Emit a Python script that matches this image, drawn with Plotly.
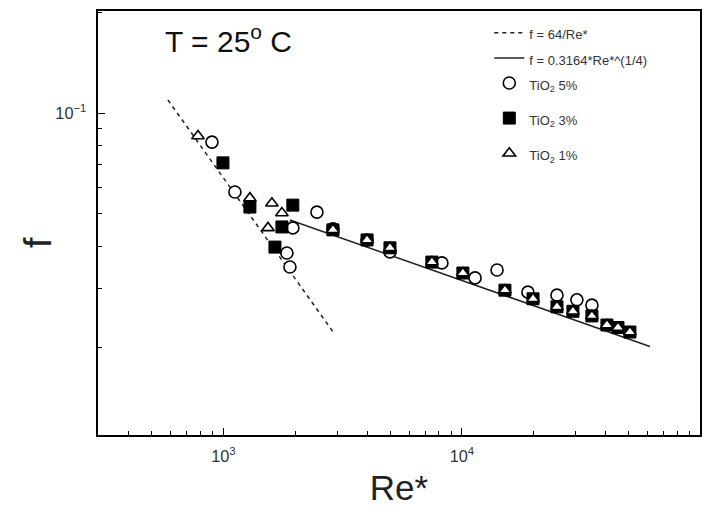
import plotly.graph_objects as go
import numpy as np

# --- data ---
re_lam = [585, 2935]                      # range of the laminar line f = 64/Re*
re_turb = [1900, 61400]                   # range of the Blasius line f = 0.3164*Re*^(-1/4)

re_5 = [895, 1117, 2466, 1954, 1845, 1900, 2877, 4000, 4990, 8240, 11350, 14030, 18900, 25020, 30330, 35060]
f_5 = [0.0819, 0.0581, 0.0506, 0.0454, 0.0382, 0.0347, 0.0451, 0.0418, 0.0385, 0.0357, 0.0322, 0.0340, 0.0292, 0.0286, 0.0277, 0.0267]

re_3 = [995, 1291, 1954, 1758, 1644, 2877, 4000, 4990, 7480, 10090, 15140, 19860, 25020, 29190, 35060, 40540, 45100, 50600]
f_3 = [0.0710, 0.0524, 0.0531, 0.0457, 0.0398, 0.0448, 0.0418, 0.0396, 0.0359, 0.0333, 0.0296, 0.0279, 0.0264, 0.0256, 0.0248, 0.0233, 0.0229, 0.0222]

re_1 = [782, 1291, 1596, 1758, 1537, 2877, 4000, 4990, 7480, 10090, 15140, 19860, 25020, 29190, 35060, 40540, 45100, 50600]
f_1 = [0.0854, 0.0557, 0.0538, 0.0503, 0.0454, 0.0448, 0.0418, 0.0396, 0.0359, 0.0333, 0.0296, 0.0279, 0.0264, 0.0256, 0.0248, 0.0233, 0.0229, 0.0222]

names = ["f = 64/Re*", "f = 0.3164*Re*^(1/4)", "TiO<sub>2</sub> 5%", "TiO<sub>2</sub> 3%", "TiO<sub>2</sub> 1%"]
groups = ["g1", "g1", "g1", "g2", "g3"]

x_lam = np.logspace(np.log10(re_lam[0]), np.log10(re_lam[1]), 50)
x_turb = np.logspace(np.log10(re_turb[0]), np.log10(re_turb[1]), 50)

FONT = "Arial, Liberation Sans, sans-serif"


def lab(t):
    return '<span style="font-size:13px">' + t + '</span>'


fig = go.Figure()
fig.add_trace(go.Scatter(x=x_lam, y=64 / x_lam, mode="lines", name=lab(names[0]), legendgroup=groups[0],
                         line=dict(color="#222", width=1.5, dash="4px,4px")))
fig.add_trace(go.Scatter(x=x_turb, y=0.3164 * x_turb ** -0.25, mode="lines", name=lab(names[1]),
                         legendgroup=groups[1], line=dict(color="#222", width=1.5)))
fig.add_trace(go.Scatter(x=re_5, y=f_5, mode="markers", name=lab(names[2]), legendgroup=groups[2],
                         marker=dict(symbol="circle", size=12, color="white",
                                     line=dict(color="black", width=1.6))))
fig.add_trace(go.Scatter(x=re_3, y=f_3, mode="markers", name=lab(names[3]), legendgroup=groups[3],
                         marker=dict(symbol="square", size=12, color="black",
                                     line=dict(color="black", width=1))))
fig.add_trace(go.Scatter(x=re_1, y=f_1, mode="markers", name=lab(names[4]), legendgroup=groups[4],
                         marker=dict(symbol="triangle-up", size=11, color="white",
                                     line=dict(color="black", width=1.6))))

fig.add_annotation(text="T = 25<sup>o</sup> C", xref="paper", yref="paper",
                   x=0.108, y=0.935, xanchor="left", yanchor="middle", showarrow=False,
                   font=dict(family=FONT, size=30, color="#111"))
# y-axis title
fig.add_annotation(text="f", xref="paper", yref="paper", textangle=-90,
                   x=-0.1, y=0.455, xanchor="center", yanchor="middle", showarrow=False,
                   font=dict(family=FONT, size=38, color="#222"))

# the page body has an 8px margin, so the figure is sized/margined to compensate
fig.update_layout(
    width=707, height=508,
    margin=dict(l=90, r=15, t=3, b=81),
    paper_bgcolor="white", plot_bgcolor="white",
    font=dict(family=FONT, color="#222"),
    showlegend=True,
    legend=dict(x=0.65, y=0.99, xanchor="left", yanchor="top",
                bgcolor="rgba(0,0,0,0)", font=dict(size=17, family=FONT, color="#333"),
                tracegroupgap=10),
)
fig.update_xaxes(type="log", range=[2.474, 4.998], dtick=1, exponentformat="power",
                 automargin=False, ticklabelstandoff=6,
                 showgrid=False, zeroline=False, showline=True, linecolor="black", linewidth=2,
                 mirror=True, ticks="inside", ticklen=7, tickcolor="black",
                 minor=dict(ticks="inside", ticklen=4, tickcolor="black", showgrid=False),
                 tickfont=dict(size=13, family=FONT, color="#333"),
                 title=dict(text="Re*", font=dict(size=35, family=FONT, color="#222"), standoff=12))
fig.update_yaxes(type="log", range=[-1.961, -0.6955], dtick=1, exponentformat="power",
                 automargin=False, ticklabelstandoff=7,
                 showgrid=False, zeroline=False, showline=True, linecolor="black", linewidth=2,
                 mirror=True, ticks="inside", ticklen=7, tickcolor="black",
                 minor=dict(ticks="inside", ticklen=4, tickcolor="black", showgrid=False),
                 tickfont=dict(size=13, family=FONT, color="#333"))

fig.write_html("out.html")
